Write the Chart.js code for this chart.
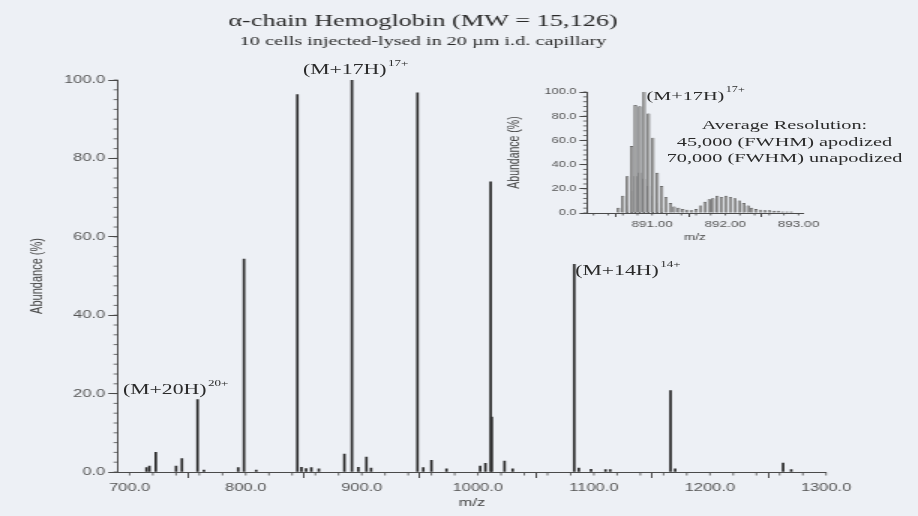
<!DOCTYPE html>
<html>
<head>
<meta charset="utf-8">
<script src="https://cdn.jsdelivr.net/npm/chart.js@4.4.1/dist/chart.umd.min.js"></script>
<style>
  html, body { margin:0; padding:0; background:#edf0f5; width:918px; height:516px; overflow:hidden; }
  #stage { position:absolute; left:0; top:0; width:612px; height:516px; transform:scaleX(1.5); transform-origin:0 0; }
  #main { position:absolute; left:0; top:0; }
  #inset { position:absolute; left:333px; top:84px; }
  .ann { position:absolute; font-family:"Liberation Serif","Times New Roman",serif; color:#2a2a2a; white-space:nowrap; line-height:1; }
  .ann sup { font-size:0.6em; position:relative; top:-0.35em; vertical-align:top; margin-left:1px; }
  .note { position:absolute; font-family:"Liberation Serif","Times New Roman",serif; color:#2a2a2a; white-space:nowrap; text-align:center; font-size:13.5px; line-height:16.5px; }
</style>
</head>
<body>
<div id="stage">
  <canvas id="main" width="612" height="516"></canvas>
  <canvas id="inset" width="225" height="160"></canvas>
  <div class="ann" style="left:202px; top:62px; font-size:14.5px;">(M+17H)<sup>17+</sup></div>
  <div class="ann" style="left:82px; top:382px; font-size:14.5px;">(M+20H)<sup>20+</sup></div>
  <div class="ann" style="left:383.5px; top:263px; font-size:14.5px;">(M+14H)<sup>14+</sup></div>
  <div class="ann" style="left:431px; top:89px; font-size:13.5px;">(M+17H)<sup>17+</sup></div>
  <div class="note" style="left:443px; top:117px; width:160px;">Average Resolution:<br>45,000 (FWHM) apodized<br>70,000 (FWHM) unapodized</div>
</div>
<script>
// ---------- data ----------
const mainPeakMz = [714.5, 717, 722.5, 740, 745, 758.5, 764, 793.5, 798.5, 809, 844.5, 848, 852, 856.5, 863, 885, 891.5, 897, 904, 908, 948, 953, 960, 973, 1002, 1006.5, 1011, 1012, 1023, 1030, 1083, 1087, 1097.5, 1110, 1114, 1166, 1170, 1263, 1270];
const mainPeakAbundance = [1.1, 1.5, 5.0, 1.5, 3.4, 18.5, 0.5, 1.1, 54.3, 0.5, 96.3, 1.2, 0.9, 1.1, 0.8, 4.6, 100, 1.2, 3.8, 1.0, 96.7, 1.1, 3.0, 0.8, 1.5, 2.2, 74, 14, 2.8, 0.8, 53, 1.0, 0.7, 0.6, 0.6, 20.8, 0.8, 2.3, 0.6];

const insetPeakMz = [890.54, 890.60, 890.66, 890.72, 890.77, 890.83, 890.89, 890.95, 891.01, 891.07, 891.13, 891.19, 891.25, 891.30, 891.36, 891.42, 891.48, 891.54, 891.60, 891.66, 891.72, 891.78, 891.83, 891.89, 891.95, 892.01, 892.07, 892.13, 892.19, 892.25, 892.31, 892.36, 892.42, 892.48, 892.54, 892.60, 892.66, 892.72, 892.78, 892.84, 892.90];
const insetPeakAbundance = [4, 14, 30, 55, 89, 88, 100, 82, 62, 33, 22, 13, 8, 5, 4, 3, 2.5, 2, 3, 6, 9, 11, 12, 14, 13, 14, 13, 12, 10, 8, 6, 4, 3, 2.5, 2, 2, 1.5, 1.5, 1, 1, 1];
const insetCoreMz = [890.66, 890.72, 890.77, 890.83, 890.89, 890.95, 891.01, 891.07, 891.13];
const insetCoreAbundance = [6, 18, 30, 33, 28, 22, 14, 8, 4];

const mainXTicks = [700, 800, 900, 1000, 1100, 1200, 1300];
const mainYTicks = [0, 20, 40, 60, 80, 100];
const insetXTicks = [891, 892, 893];
const insetYTicks = [0, 20, 40, 60, 80, 100];

// ---------- styling ----------
const SANS = '"Liberation Sans", Arial, Helvetica, sans-serif';
const SERIF = '"Liberation Serif", "Times New Roman", serif';
const AXIS = '#4a4a4a';
const TXT = '#555';

const minorTicks = {
  id: 'minorTicks',
  afterDraw(chart, args, o) {
    const ctx = chart.ctx, a = chart.chartArea;
    const xs = chart.scales.x, ys = chart.scales.y;
    ctx.save();
    ctx.strokeStyle = AXIS; ctx.lineWidth = 0.8;
    ctx.beginPath();
    const nx = Math.round((o.xTo - o.xFrom) / o.xStep);
    for (let i = 0; i <= nx; i++) {
      const p = xs.getPixelForValue(o.xFrom + i * o.xStep);
      if (p < a.left - 0.5 || p > a.right + 0.5) continue;
      ctx.moveTo(p, a.bottom); ctx.lineTo(p, a.bottom + o.xLen);
    }
    const ny = Math.round((ys.max - ys.min) / o.yStep);
    for (let i = 0; i <= ny; i++) {
      const p = ys.getPixelForValue(ys.min + i * o.yStep);
      ctx.moveTo(a.left, p); ctx.lineTo(a.left - o.yLen, p);
    }
    ctx.stroke();
    ctx.restore();
  }
};

function axisX(min, max, ticksArr, digits, fontSize, tickLen, pad, height, titleText, titleSize, titlePadBottom) {
  return {
    type: 'linear', min, max, offset: false,
    afterBuildTicks: s => { s.ticks = ticksArr.map(v => ({ value: v })); },
    afterFit: s => { s.height = height; },
    ticks: { callback: v => Number(v).toFixed(digits), font: { family: SANS, size: fontSize }, color: TXT, padding: pad, maxRotation: 0, autoSkip: false },
    grid: { display: true, drawOnChartArea: false, drawTicks: true, tickLength: tickLen, color: AXIS, tickWidth: 1 },
    border: { display: true, color: AXIS, width: 1 },
    title: { display: true, text: titleText, font: { family: SANS, size: titleSize }, color: '#444', padding: { top: 0, bottom: titlePadBottom } }
  };
}
function axisY(ticksArr, fontSize, tickLen, pad, width, titleSize, titlePadTop) {
  return {
    type: 'linear', min: 0, max: 100,
    afterBuildTicks: s => { s.ticks = ticksArr.map(v => ({ value: v })); },
    afterFit: s => { s.width = width; },
    ticks: { callback: v => Number(v).toFixed(1), font: { family: SANS, size: fontSize }, color: TXT, padding: pad, autoSkip: false },
    grid: { display: true, drawOnChartArea: false, drawTicks: true, tickLength: tickLen, color: AXIS, tickWidth: 1 },
    border: { display: true, color: AXIS, width: 1 },
    title: { display: true, text: 'Abundance (%)', font: { family: SANS, size: titleSize }, color: '#444', padding: { top: titlePadTop, bottom: 0 } }
  };
}

new Chart(document.getElementById('main'), {
  type: 'bar',
  data: {
    datasets: [{
      data: mainPeakMz.map((x, i) => ({ x, y: mainPeakAbundance[i] })),
      backgroundColor: '#2a2a2a', borderWidth: 0, barThickness: 1.05, grouped: false
    }]
  },
  options: {
    responsive: false, animation: false,
    layout: { padding: { left: 13.3, right: 61.3, top: 0, bottom: 0 } },
    plugins: {
      legend: { display: false }, tooltip: { enabled: false },
      title: { display: true, text: 'α-chain Hemoglobin (MW = 15,126)', color: '#2a2a2a',
               font: { family: SERIF, size: 17.5, weight: 'normal' }, padding: { top: 10.5, bottom: 0 } },
      subtitle: { display: true, text: '10 cells injected-lysed in 20 µm i.d. capillary', color: '#2a2a2a',
               font: { family: SERIF, size: 13.5, weight: 'normal' }, padding: { top: 1.9, bottom: 30.4 } },
      minorTicks: { xFrom: 700, xTo: 1300, xStep: 20, xLen: 3.5, yStep: 2.5, yLen: 3 }
    },
    scales: {
      x: axisX(690, 1300, mainXTicks, 1, 11, 6, 3, 44, 'm/z', 11, 6.9),
      y: axisY(mainYTicks, 11, 6.5, 2, 65.4, 11, 4.6)
    }
  },
  plugins: [minorTicks]
});

new Chart(document.getElementById('inset'), {
  type: 'bar',
  data: {
    datasets: [{
      data: insetPeakMz.map((x, i) => ({ x, y: insetPeakAbundance[i] })),
      backgroundColor: '#a3a3a3', borderColor: '#4a4a4a', borderWidth: 0.4, barThickness: 1.7, grouped: false
    }, {
      data: insetCoreMz.map((x, i) => ({ x, y: insetCoreAbundance[i] })),
      backgroundColor: '#1c1c1c', borderWidth: 0, barThickness: 0.8, grouped: false
    }]
  },
  options: {
    responsive: false, animation: false,
    layout: { padding: { left: 0, right: 22.7, top: 8, bottom: 0 } },
    plugins: {
      legend: { display: false }, tooltip: { enabled: false },
      minorTicks: { xFrom: 890.2, xTo: 893.0, xStep: 0.2, xLen: 2.5, yStep: 4, yLen: 2.5 }
    },
    scales: {
      x: axisX(890.11, 893.06, insetXTicks, 2, 9, 4, 2, 31, 'm/z', 9, 0.6),
      y: axisY(insetYTicks, 8.5, 5, 2, 58.3, 10.5, 3.4)
    }
  },
  plugins: [minorTicks]
});
</script>
</body>
</html>
